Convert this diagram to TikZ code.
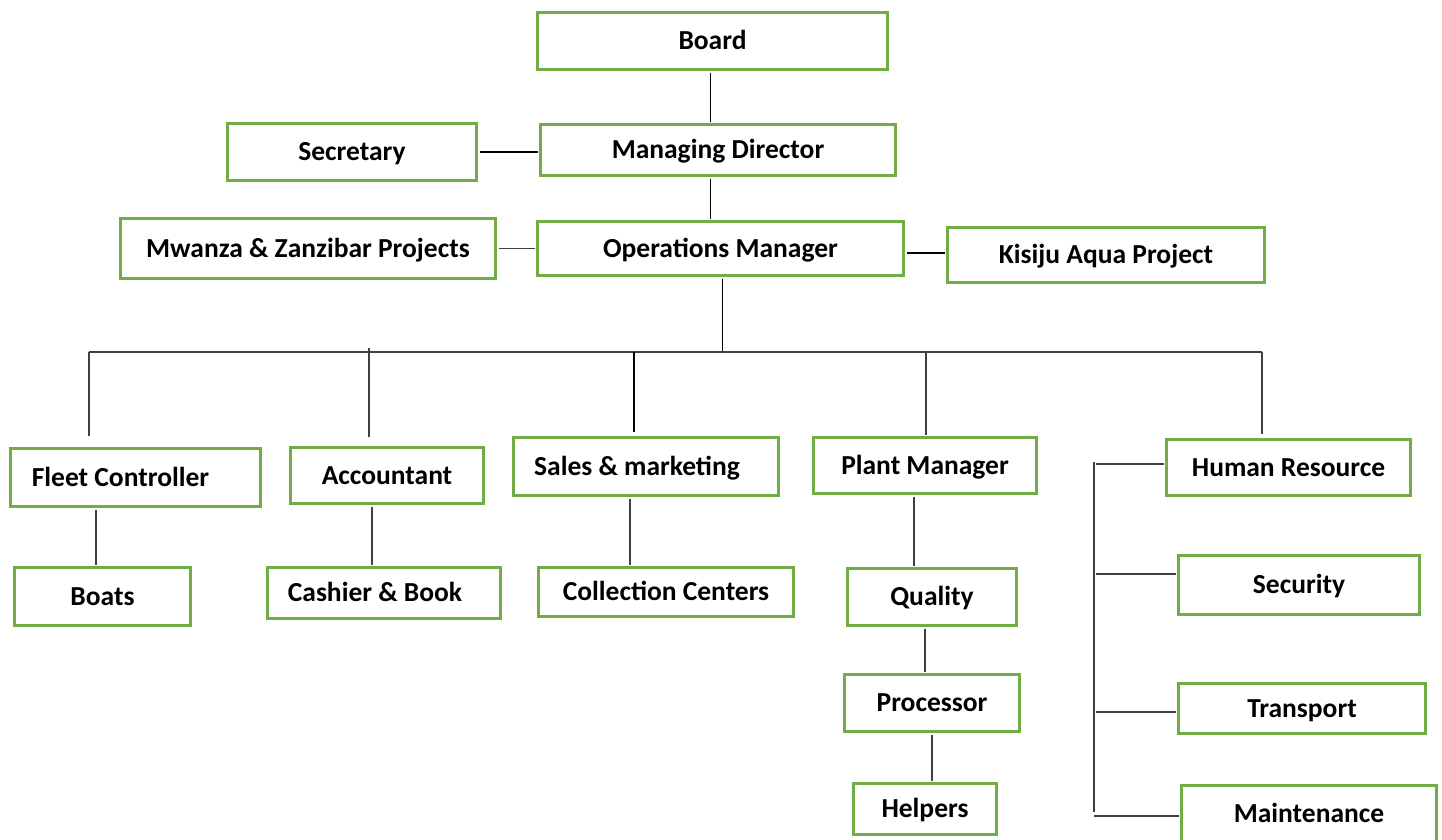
\documentclass[tikz,border=0pt]{standalone}
\usepackage{fontspec}
\setmainfont{Carlito}
\definecolor{boxgreen}{HTML}{70AD47}
\definecolor{linkgray}{HTML}{404040}
\tikzset{
  orgbox/.style={draw=boxgreen, line width=3pt, rectangle, inner sep=0pt, outer sep=3pt,
    font=\fontsize{27.5}{33}\selectfont\bfseries, text height=17.4pt, text depth=0pt},
  link/.style={draw=linkgray, line width=1.8pt},
  thinlink/.style={draw=black, line width=1.1pt},
}
% box from its outer edges: name, x1, y1, x2, y2, label
\newcommand\orgnode[6]{%
  \node[orgbox, minimum width={#4-#2-3}, minimum height={#5-#3-3}]
    (#1) at ({(#2+#4)/2},{(#3+#5)/2}) {#6};}
\begin{document}
\begin{tikzpicture}[x=1pt,y=-1pt]
\useasboundingbox (0,0) rectangle (1442,839);

% top of the chart
\orgnode{board}{536}{11}{889}{71}{Board}
\orgnode{md}{539}{123}{897}{177}{Managing Director}
\orgnode{sec}{226}{122}{478}{182}{Secretary}
\orgnode{om}{536}{220}{905}{277}{Operations Manager}
\orgnode{mwz}{119}{217}{497}{280}{Mwanza \& Zanzibar Projects}
\orgnode{kis}{946}{226}{1266}{284}{Kisiju Aqua Project}

% departments
\orgnode{fleet}{9}{447}{262}{508}{Fleet Controller\hspace*{30pt}}
\orgnode{acc}{289}{446}{485}{505}{Accountant}
\orgnode{sales}{512}{436}{780}{497}{Sales \& marketing\hspace*{18pt}}
\orgnode{plant}{812}{436}{1038}{495}{Plant Manager}
\orgnode{hr}{1165}{438}{1412}{497}{Human Resource}

% units
\orgnode{boats}{13}{566}{192}{627}{Boats}
\orgnode{cash}{266}{566}{502}{620}{Cashier \& Book\hspace*{18pt}}
\orgnode{coll}{537}{566}{795}{618}{Collection Centers}
\orgnode{qual}{846}{567}{1018}{627}{Quality}
\orgnode{proc}{843}{673}{1021}{733}{Processor}
\orgnode{help}{852}{782}{998}{836}{Helpers}
\orgnode{secu}{1177}{554}{1421}{616}{Security}
\orgnode{trans}{1177}{682}{1427}{735}{Transport}
\orgnode{maint}{1180}{784}{1438}{843}{Maintenance}

% columns and rows used by the connectors
\coordinate (cTop) at (710.7,0);
\coordinate (cOM) at (722.5,0);
\coordinate (rKis) at (0,253);
\coordinate (cFB) at (96,0);
\coordinate (cAC) at (372,0);
\coordinate (cSC) at (630,0);
\coordinate (cPQ) at (914,0);
\coordinate (cQP) at (925,0);
\coordinate (cPH) at (932,0);

% main chain
\draw[thinlink] (board.south -| cTop) -- (md.north -| cTop);
\draw[thinlink] (md.south -| cTop) -- (om.north -| cTop);
\draw[thinlink] (sec.east) -- (sec.east -| md.west);
\draw[link] (mwz.east) -- (mwz.east -| om.west);
\draw[thinlink] (om.east |- rKis) -- (kis.west |- rKis);

% bus to the departments
\coordinate (busL) at (89,352);
\coordinate (busR) at (1262,352);
\coordinate (busOM) at (722.5,352);
\coordinate (busAcc) at (369,348);
\coordinate (busSales) at (634,352);
\coordinate (busPlant) at (926,352);
\coordinate (inFleet) at (89,436);
\coordinate (inAcc) at (369,437);
\coordinate (inSales) at (634,432);
\coordinate (inPlant) at (926,435);
\coordinate (inHR) at (1262,434);

\draw[thinlink] (om.south -| cOM) -- (busOM);
\draw[link] (busL) -- (busR);
\draw[link] (busL) -- (inFleet);
\draw[link] (busAcc) -- (inAcc);
\draw[thinlink] (busSales) -- (inSales);
\draw[link] (busPlant) -- (inPlant);
\draw[link] (busR) -- (inHR);

% departments to their units
\draw[link] (fleet.south -| cFB) -- (boats.north -| cFB);
\draw[link] (acc.south -| cAC) -- (cash.north -| cAC);
\draw[link] (sales.south -| cSC) -- (coll.north -| cSC);
\draw[link] (plant.south -| cPQ) -- (qual.north -| cPQ);
\draw[link] (qual.south -| cQP) -- (proc.north -| cQP);
\draw[link] (proc.south -| cPH) -- (help.north -| cPH);

% human resource branch
\coordinate (hrTop) at (1094,462);
\coordinate (hrBot) at (1094,812);
\coordinate (hrJ1) at (1096,464);
\coordinate (hrJ2) at (1096,574);
\coordinate (hrJ3) at (1096,712);
\coordinate (hrJ4) at (1094,816);
\draw[link] (hrTop) -- (hrBot);
\draw[link] (hrJ1) -- (hrJ1 -| hr.west);
\draw[link] (hrJ2) -- (hrJ2 -| secu.west);
\draw[link] (hrJ3) -- (hrJ3 -| trans.west);
\draw[link] (hrJ4) -- (hrJ4 -| maint.west);
\end{tikzpicture}
\end{document}
